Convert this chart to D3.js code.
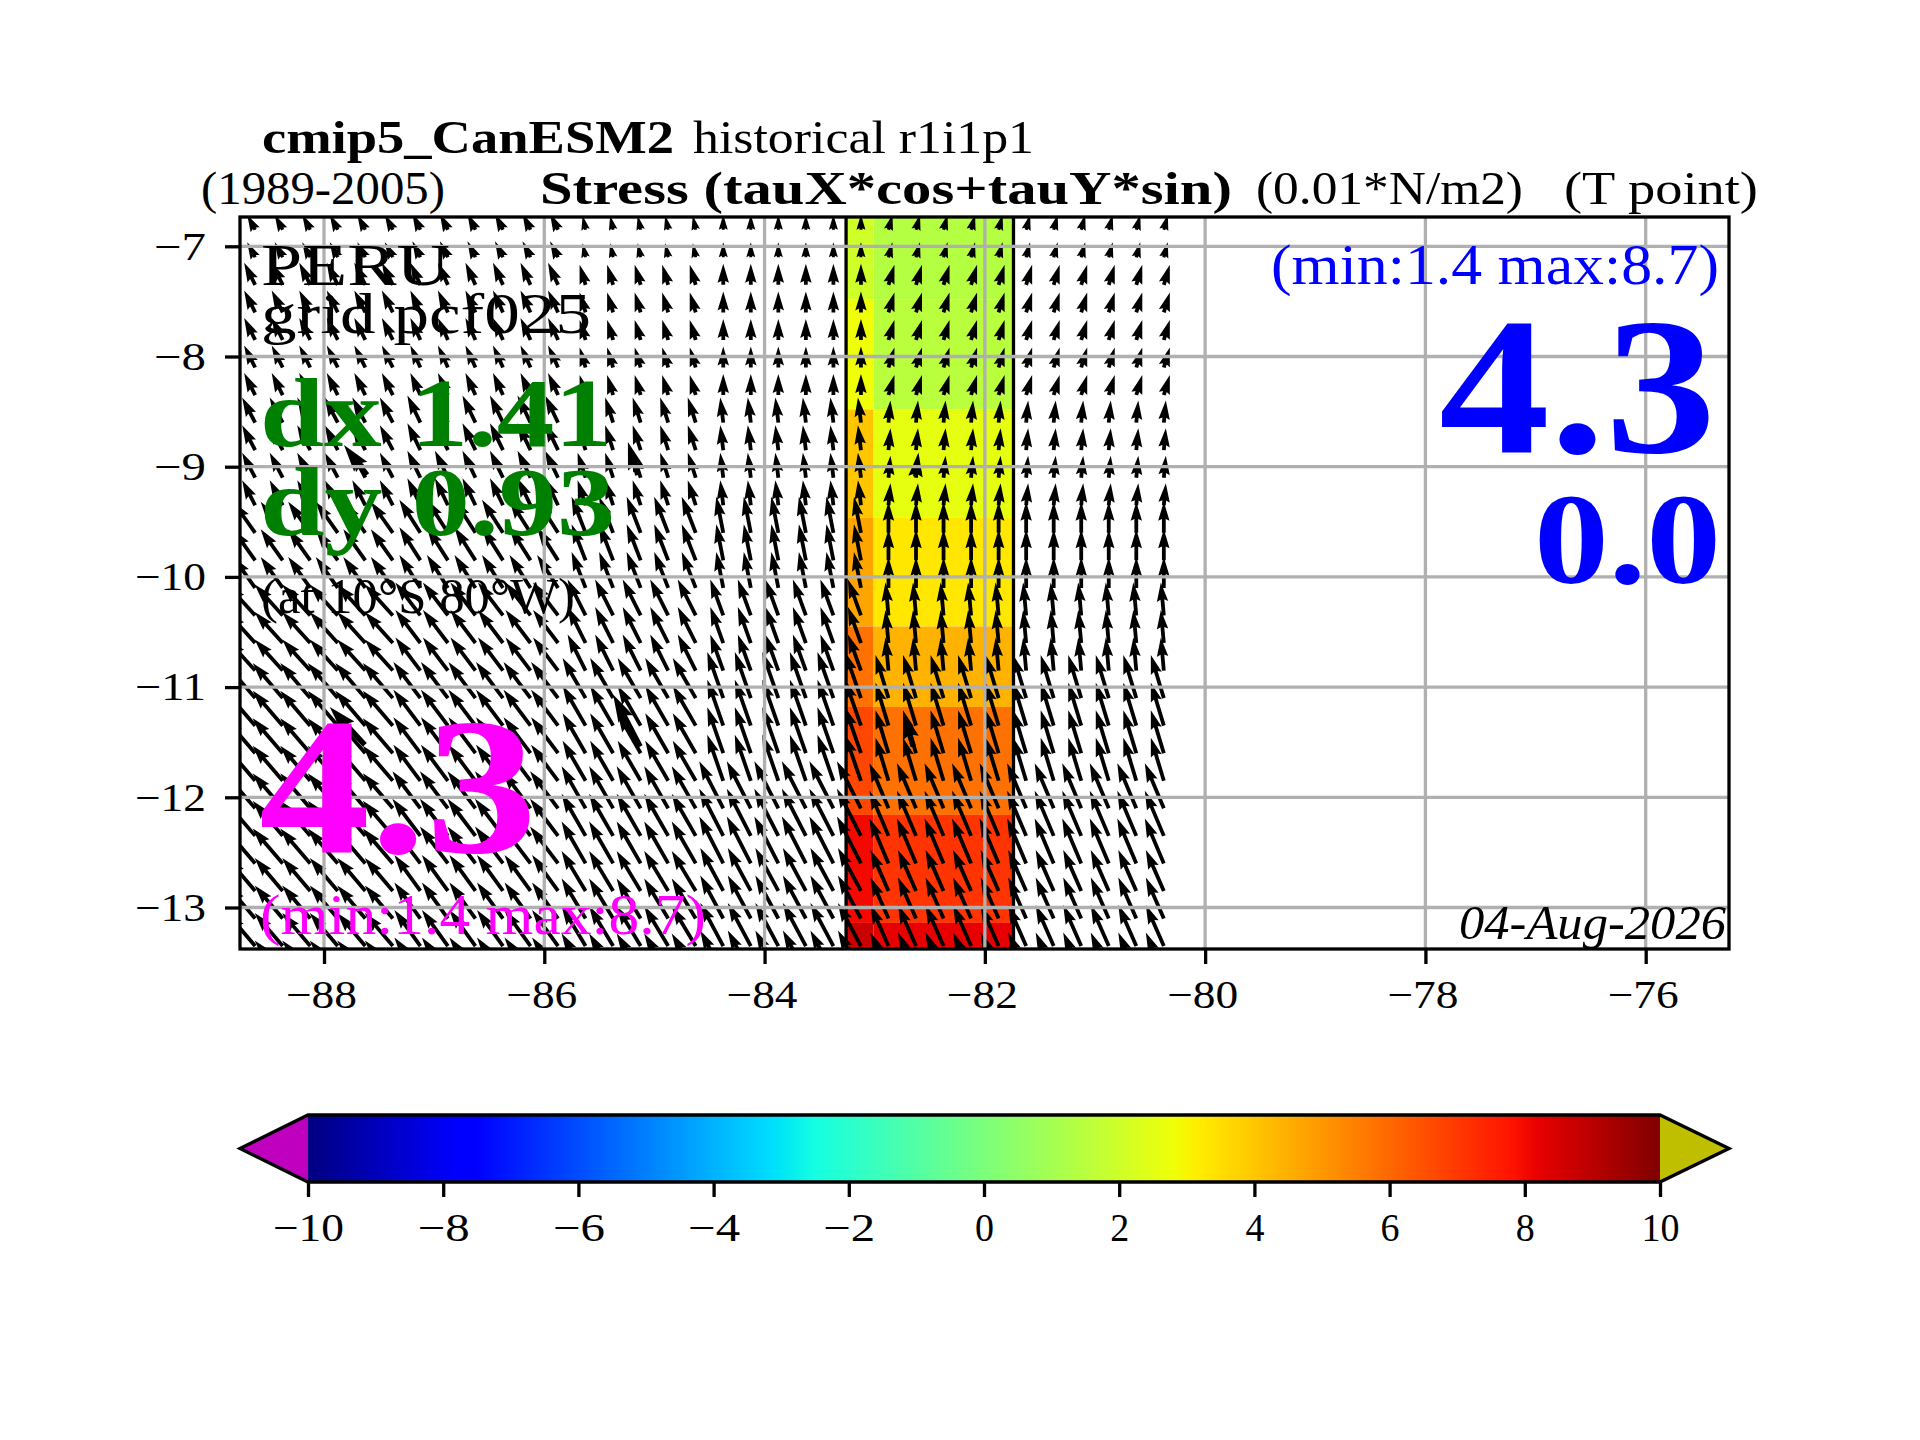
<!DOCTYPE html>
<html>
<head>
<meta charset="utf-8">
<title>cmip5_CanESM2 stress</title>
<script src="https://cdn.jsdelivr.net/npm/d3@7"></script>
<style>
  body { margin: 0; background: #fff; }
  svg text { font-family: "Liberation Serif", serif; }
</style>
</head>
<body>
<div id="container"></div>
<script>
/**
 * DATA
 * */
const xTicks = [-88, -86, -84, -82, -80, -78, -76];
const yTicks = [-7, -8, -9, -10, -11, -12, -13];
const cbarTicks = [-10, -8, -6, -4, -2, 0, 2, 4, 6, 8, 10];

// colored stress cells (lon columns, lat rows, values per column)
const cellLonEdges = [-83.26, -83.01, -81.74];
const cellLatEdges = [-6.73, -7.48, -8.48, -9.46, -10.45, -11.18, -12.16, -13.14, -13.39];
const cellValuesWest = [2.0, 2.8, 4.0, 4.7, 5.8, 6.7, 8.0, 8.7];
const cellValuesEast = [1.4, 1.5, 2.6, 3.3, 4.4, 5.8, 7.1, 8.2];

// quiver points
const arrowLons = [-88.625, -88.375, -88.125, -87.875, -87.625, -87.375, -87.125, -86.875, -86.625,
  -86.375, -86.125, -85.875, -85.625, -85.375, -85.125, -84.875, -84.625, -84.375, -84.125,
  -83.875, -83.625, -83.375, -83.125, -82.875, -82.625, -82.375, -82.125, -81.875, -81.625,
  -81.375, -81.125, -80.875, -80.625, -80.375];
const arrowLats = [-6.85, -7.1, -7.35, -7.6, -7.85, -8.1, -8.35, -8.6, -8.85, -9.1, -9.35, -9.6,
  -9.85, -10.1, -10.35, -10.6, -10.85, -11.1, -11.35, -11.6, -11.85, -12.1, -12.35, -12.6,
  -12.85, -13.1, -13.35, -13.6];

// the wind is constant on coarse model cells: u and v per band (west to east)
const bandLonEdges = [-87.24, -85.83, -84.42, -83.01];
const bandLatEdges = [-7.125, -8.45, -9.45, -10.3, -10.96, -11.98, -12.8];
const bandU = [
  [-8, -8, -3, 0, 4],
  [-11, -10, -6, 0, 6],
  [-13, -13, -8, -3, 2],
  [-22, -21, -14, -7, 0],
  [-28, -25, -18, -13, -3],
  [-30, -27, -23, -16, -13],
  [-30, -28, -24, -24, -19],
  [-28, -26, -24, -23, -18]
];
const bandV = [
  [15, 16, 14, 15, 15],
  [22, 22, 20, 21, 20],
  [25, 27, 25, 25, 22],
  [31, 33, 36, 36, 31],
  [31, 33, 36, 36, 33],
  [35, 36, 40, 46, 43],
  [35, 37, 42, 47, 45],
  [33, 36, 40, 43, 41]
];

// the few heavier arrows of the second quiver
const bigLons = [-87.61, -85.15, -82.63, -87.63, -85.13, -82.65];
const bigLats = [-9.075, -9.075, -9.09, -11.525, -11.54, -11.54];
const bigU = [-23, -10, 3, -35, -27, -10];
const bigV = [30, 33, 24, 38, 52, 35];

/**
 * LAYOUT
 * */
const width = 1920, height = 1440;
const plot = { left: 240, right: 1729, top: 217, bottom: 949 };
const bar = { left: 308, right: 1660, top: 1115, bottom: 1182, tipLeft: 240, tipRight: 1729 };
const lineW = 3.3, gridColor = "#b0b0b0";

const x = d3.scaleLinear().domain([-88, -76]).range([324, 1645.7]);
const y = d3.scaleLinear().domain([-7, -13]).range([246.3, 907.5]);
const cbarX = d3.scaleLinear().domain([-10, 10]).range([bar.left, bar.right]);

// matplotlib jet, one channel scale each
const jetR = d3.scaleLinear().domain([0, .35, .66, .89, 1]).range([0, 0, 255, 255, 128]);
const jetG = d3.scaleLinear().domain([0, .125, .375, .64, .91, 1]).range([0, 0, 255, 255, 0, 0]);
const jetB = d3.scaleLinear().domain([0, .11, .34, .65, 1]).range([128, 255, 255, 0, 0]);
const jet = v => {
  const t = (v + 10) / 20;
  return d3.rgb(jetR(t), jetG(t), jetB(t)).formatHex();
};

const svg = d3.select("#container").append("svg")
  .attr("width", width).attr("height", height)
  .style("display", "block").style("background", "#fff");

svg.append("clipPath").attr("id", "plotClip").append("rect")
  .attr("x", plot.left).attr("y", plot.top)
  .attr("width", plot.right - plot.left).attr("height", plot.bottom - plot.top);

const inner = svg.append("g").attr("clip-path", "url(#plotClip)");

/**
 * COLORED CELLS
 * */
[cellValuesWest, cellValuesEast].forEach((values, c) => {
  inner.append("g").selectAll("rect").data(values).join("rect")
    .attr("x", x(cellLonEdges[c]))
    .attr("width", x(cellLonEdges[c + 1]) - x(cellLonEdges[c]))
    .attr("y", (d, i) => y(cellLatEdges[i]))
    .attr("height", (d, i) => y(cellLatEdges[i + 1]) - y(cellLatEdges[i]))
    .attr("fill", d => jet(d));
});
[cellLonEdges[0], cellLonEdges[2]].forEach(lon => {
  inner.append("line").attr("x1", x(lon)).attr("x2", x(lon))
    .attr("y1", plot.top).attr("y2", plot.bottom)
    .attr("stroke", "#000").attr("stroke-width", lineW);
});

/**
 * QUIVER
 * */
// arrow polygon the way quiver builds it: width w, head 3w wide and 5w long
function arrowPath(px, py, u, v, w) {
  const len = Math.hypot(u, v);
  const k = Math.min(1, len / (5 * w));
  const sw = w * k, hl = 5 * w * k, ha = 4.5 * w * k;
  const pts = [
    [0, -sw / 2], [len - ha, -sw / 2], [len - hl, -1.5 * sw], [len, 0],
    [len - hl, 1.5 * sw], [len - ha, sw / 2], [0, sw / 2]
  ];
  const ca = u / len, sa = -v / len;
  return d3.line()(pts.map(p => [px + p[0] * ca - p[1] * sa, py + p[0] * sa + p[1] * ca])) + "Z";
}

const arrows = [];
arrowLats.forEach(lat => {
  arrowLons.forEach(lon => {
    const col = d3.bisectLeft(bandLonEdges, lon);
    const row = bandLatEdges.filter(e => lat < e).length;
    arrows.push({ lon, lat, u: bandU[row][col], v: bandV[row][col] });
  });
});

inner.append("g").selectAll("path").data(arrows).join("path")
  .attr("d", d => arrowPath(x(d.lon), y(d.lat), d.u, d.v, 3.8))
  .attr("fill", "#000");

inner.append("g").selectAll("path").data(bigLons).join("path")
  .attr("d", (d, i) => arrowPath(x(d), y(bigLats[i]), bigU[i], bigV[i], 5.5))
  .attr("fill", "#000");

/**
 * GRID AND AXES
 * */
inner.append("g").selectAll("line").data(xTicks).join("line")
  .attr("x1", d => x(d)).attr("x2", d => x(d))
  .attr("y1", plot.top).attr("y2", plot.bottom)
  .attr("stroke", gridColor).attr("stroke-width", lineW);
inner.append("g").selectAll("line").data(yTicks).join("line")
  .attr("y1", d => y(d)).attr("y2", d => y(d))
  .attr("x1", plot.left).attr("x2", plot.right)
  .attr("stroke", gridColor).attr("stroke-width", lineW);

svg.append("rect")
  .attr("x", plot.left).attr("y", plot.top)
  .attr("width", plot.right - plot.left).attr("height", plot.bottom - plot.top)
  .attr("fill", "none").attr("stroke", "#000").attr("stroke-width", lineW);

// tick label widths follow the wider digits of the original font
const labelWidth = d => String(Math.abs(d)).length * 19 + (d < 0 ? 33 : 0);

function styleAxis(g) {
  g.select(".domain").remove();
  g.selectAll(".tick line").attr("stroke", "#000").attr("stroke-width", lineW);
  g.selectAll(".tick text")
    .attr("fill", "#000").attr("font-size", 40).attr("font-family", "Liberation Serif")
    .attr("textLength", d => labelWidth(d)).attr("lengthAdjust", "spacingAndGlyphs");
}

svg.append("g").attr("transform", `translate(0,${plot.bottom})`)
  .call(d3.axisBottom(x).tickValues(xTicks).tickSize(15).tickPadding(16).tickFormat(d3.format("d")))
  .call(styleAxis)
  .call(g => g.selectAll(".tick text").attr("dx", -3));

svg.append("g").attr("transform", `translate(${plot.left},0)`)
  .call(d3.axisLeft(y).tickValues(yTicks).tickSize(15).tickPadding(19).tickFormat(d3.format("d")))
  .call(styleAxis);

/**
 * TEXTS
 * */
function label(str, x0, x1, base, size, opts = {}) {
  svg.append("text")
    .attr("x", x0).attr("y", base)
    .attr("textLength", x1 - x0).attr("lengthAdjust", "spacingAndGlyphs")
    .attr("font-size", size)
    .attr("font-weight", opts.bold ? "bold" : "normal")
    .attr("font-style", opts.italic ? "italic" : "normal")
    .attr("fill", opts.color || "#000")
    .text(str);
}

label("cmip5_CanESM2", 262, 674, 153, 47, { bold: true });
label("historical r1i1p1", 693, 1034, 153, 47);
label("(1989-2005)", 201, 445, 204, 47);
label("Stress (tauX*cos+tauY*sin)", 540, 1232, 204, 47, { bold: true });
label("(0.01*N/m2)", 1256, 1523, 204, 47);
label("(T point)", 1564, 1758, 204, 47);

label("PERU", 261, 450, 285, 60);
label("grid pcf025", 261, 591, 333, 56);
label("dx 1.41", 260, 612, 446, 97, { bold: true, color: "#008000" });
label("dy 0.93", 260, 615, 535, 97, { bold: true, color: "#008000" });
label("(at 10\u00b0S 80\u00b0W)", 261, 575, 613, 50);
label("4.3", 259, 537, 852, 194, { bold: true, color: "#ff00ff" });
label("(min:1.4 max:8.7)", 260, 706, 934, 58, { color: "#ff00ff" });

label("(min:1.4 max:8.7)", 1271, 1719, 284, 58, { color: "#0000ff" });
label("4.3", 1439, 1716, 452, 194, { bold: true, color: "#0000ff" });
label("0.0", 1534, 1721, 583, 130, { bold: true, color: "#0000ff" });
label("04-Aug-2026", 1459, 1726, 939, 48, { italic: true });

/**
 * COLORBAR
 * */
const steps = d3.range(676);
const stepW = (bar.right - bar.left) / steps.length;
svg.append("g").selectAll("rect").data(steps).join("rect")
  .attr("x", d => bar.left + d * stepW)
  .attr("width", stepW + 0.6)
  .attr("y", bar.top).attr("height", bar.bottom - bar.top)
  .attr("fill", d => jet((d + 0.5) / steps.length * 20 - 10));

const midY = (bar.top + bar.bottom) / 2;
svg.append("path")
  .attr("d", d3.line()([[bar.left, bar.top], [bar.tipLeft, midY], [bar.left, bar.bottom]]) + "Z")
  .attr("fill", "#bf00bf");
svg.append("path")
  .attr("d", d3.line()([[bar.right, bar.top], [bar.tipRight, midY], [bar.right, bar.bottom]]) + "Z")
  .attr("fill", "#bfbf00");
svg.append("path")
  .attr("d", d3.line()([[bar.left, bar.top], [bar.right, bar.top], [bar.tipRight, midY],
    [bar.right, bar.bottom], [bar.left, bar.bottom], [bar.tipLeft, midY]]) + "Z")
  .attr("fill", "none").attr("stroke", "#000").attr("stroke-width", lineW);

svg.append("g").attr("transform", `translate(0,${bar.bottom})`)
  .call(d3.axisBottom(cbarX).tickValues(cbarTicks).tickSize(15).tickPadding(16).tickFormat(d3.format("d")))
  .call(styleAxis);
</script>
</body>
</html>
